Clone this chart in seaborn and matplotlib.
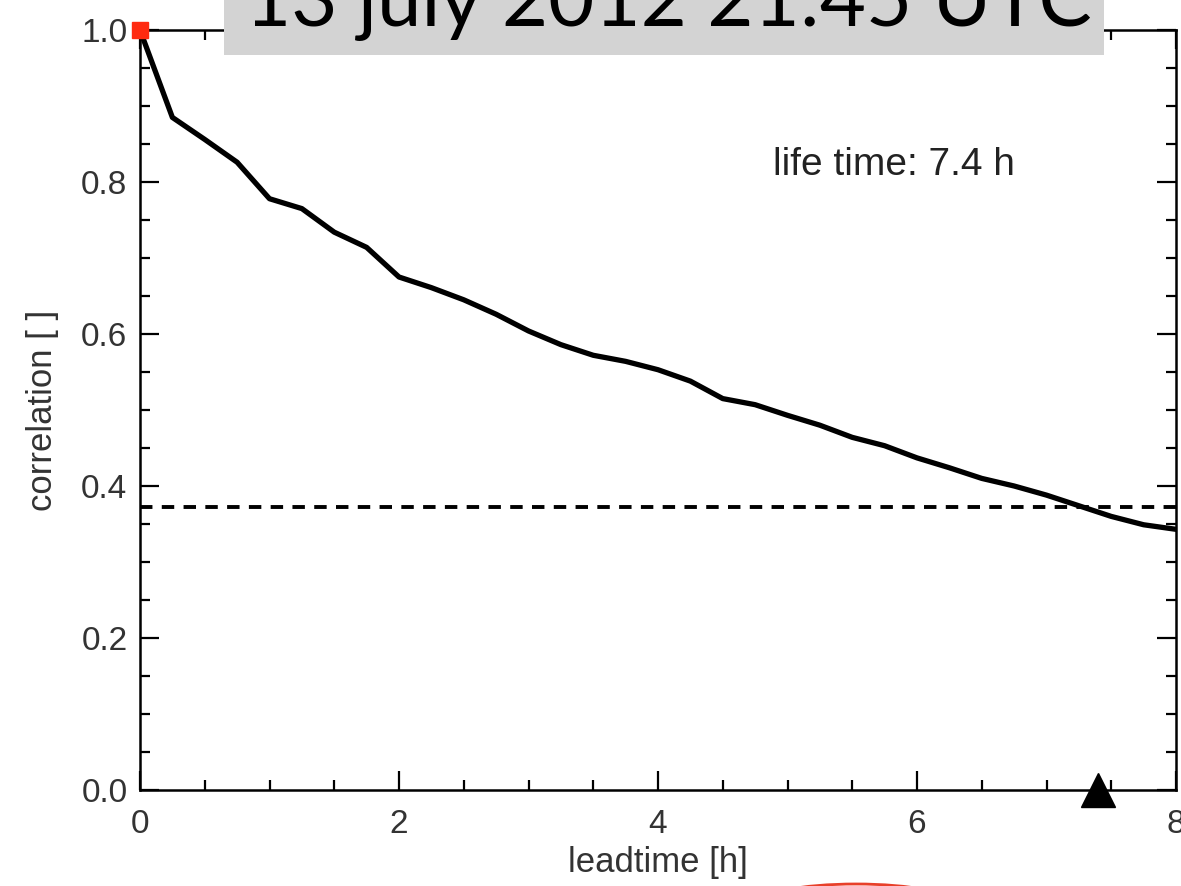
import numpy as np
import pandas as pd
import matplotlib
matplotlib.use('Agg')
import matplotlib.pyplot as plt
import seaborn as sns
from matplotlib.patches import Rectangle, Ellipse

# autocorrelation of the pattern vs lead time (every 15 min)
leadtime = [0.0, 0.25, 0.5, 0.75, 1.0, 1.25, 1.5, 1.75, 2.0, 2.25, 2.5, 2.75,
            3.0, 3.25, 3.5, 3.75, 4.0, 4.25, 4.5, 4.75, 5.0, 5.25, 5.5, 5.75,
            6.0, 6.25, 6.5, 6.75, 7.0, 7.25, 7.5, 7.75, 8.0]
correlation = [1.0, 0.885, 0.856, 0.826, 0.778, 0.765, 0.734, 0.714, 0.675, 0.661,
               0.645, 0.626, 0.604, 0.586, 0.572, 0.564, 0.553, 0.538, 0.515, 0.507,
               0.493, 0.480, 0.464, 0.453, 0.437, 0.424, 0.410, 0.400, 0.388, 0.374,
               0.360, 0.349, 0.343]
efold = 1 / np.e
life_time = 7.4
title = '13 july 2012 21:45 UTC'

df = pd.DataFrame({'leadtime': leadtime, 'correlation': correlation})

sns.set_style('ticks')
plt.rcParams['font.family'] = ['Liberation Sans', 'DejaVu Sans']

fig = plt.figure(figsize=(11.81, 8.86), dpi=100)
ax = fig.add_axes([140 / 1181, 96 / 886, 1036 / 1181, 760 / 886])

sns.lineplot(data=df, x='leadtime', y='correlation', color='black', lw=3.8,
             solid_joinstyle='round', solid_capstyle='round', ax=ax)
ax.axhline(efold + 0.004, color='black', lw=2.8, ls=(0, (3.2, 2.4)))
ax.plot([0], [1.0], marker='s', color='#ff2a10', ms=11, clip_on=False, zorder=5)
ax.plot([life_time], [0.0], marker='^', color='black', ms=25, clip_on=False, zorder=5)

ax.text(5.82, 0.822, f'life time: {life_time} h', fontsize=28, ha='center',
        va='center', color='#222222')

ax.set_xlim(0, 8)
ax.set_ylim(0, 1)
ax.set_xticks([0, 2, 4, 6, 8])
ax.set_xticklabels(['0', '2', '4', '6', '8'])
ax.set_yticks([0.0, 0.2, 0.4, 0.6, 0.8, 1.0])
ax.set_yticklabels(['0.0', '0.2', '0.4', '0.6', '0.8', '1.0'])
ax.set_xticks(np.arange(0, 8.01, 0.5), minor=True)
ax.set_yticks(np.arange(0, 1.001, 0.05), minor=True)
ax.tick_params(which='both', direction='in', top=True, right=True, width=1.6,
               labelsize=24, color='black', labelcolor='#333333')
ax.tick_params(axis='x', pad=14)
ax.tick_params(axis='y', pad=9)
ax.tick_params(which='major', length=14)
ax.tick_params(which='minor', length=7)
for s in ax.spines.values():
    s.set_linewidth(1.8)
    s.set_color('black')

ax.set_xlabel('leadtime [h]', fontsize=25, labelpad=4, color='#333333')
ax.set_ylabel('correlation [ ]', fontsize=25, labelpad=16, color='#333333')

# grey title banner cut off at the top of the slide
fig.patches.append(Rectangle((224 / 1181, 1 - 55 / 886), 880 / 1181, 60 / 886,
                             transform=fig.transFigure, facecolor='#d3d3d3',
                             edgecolor='none', zorder=10))
t = fig.text(245 / 1181, 1 - 26 / 886, title, fontsize=58, family='Lato',
             va='baseline', ha='left', color='black', zorder=11)
fig.canvas.draw()
w = t.get_window_extent().width
t.set_fontsize(58 * 845 / w)

# small red edge of something below the slide
fig.patches.append(Ellipse((856 / 1181, -18 / 886), 200 / 1181, 40 / 886,
                           transform=fig.transFigure, facecolor='none',
                           edgecolor='#e8402a', lw=2, zorder=10))

fig.savefig('out.png', dpi=100)
